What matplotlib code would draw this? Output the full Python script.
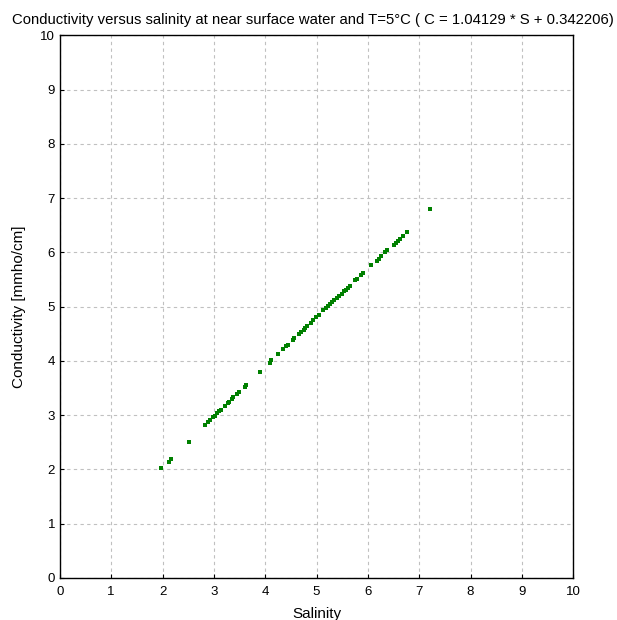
import matplotlib
matplotlib.use("Agg")
import matplotlib.pyplot as plt

plt.rcParams['font.family'] = ['Liberation Sans', 'DejaVu Sans']

# salinity / conductivity samples
salinity = [1.97, 2.13, 2.17, 2.51, 2.83, 2.89, 2.93, 2.99, 3.02, 3.07, 3.10, 3.13,
            3.21, 3.27, 3.30, 3.35, 3.38, 3.46, 3.49, 3.60, 3.63, 3.89, 4.09, 4.12,
            4.25, 4.35, 4.41, 4.45, 4.54, 4.57, 4.65, 4.70, 4.75, 4.78, 4.82, 4.89,
            4.94, 4.99, 5.04, 5.13, 5.18, 5.22, 5.26, 5.30, 5.35, 5.39, 5.44, 5.49,
            5.53, 5.58, 5.62, 5.65, 5.75, 5.78, 5.86, 5.90, 6.07, 6.17, 6.21, 6.25,
            6.33, 6.38, 6.50, 6.54, 6.58, 6.62, 6.68, 6.77, 7.22]
conductivity = [2.02, 2.14, 2.19, 2.50, 2.82, 2.88, 2.91, 2.97, 2.99, 3.04, 3.08, 3.10,
                3.16, 3.22, 3.25, 3.30, 3.33, 3.39, 3.43, 3.52, 3.56, 3.80, 3.96, 4.01,
                4.12, 4.21, 4.27, 4.30, 4.39, 4.43, 4.50, 4.54, 4.57, 4.61, 4.64, 4.70,
                4.75, 4.81, 4.85, 4.93, 4.98, 5.01, 5.04, 5.08, 5.13, 5.16, 5.20, 5.24,
                5.28, 5.30, 5.35, 5.38, 5.49, 5.51, 5.58, 5.62, 5.77, 5.84, 5.87, 5.93,
                6.01, 6.04, 6.13, 6.17, 6.21, 6.25, 6.30, 6.38, 6.80]
ticks = list(range(0, 11))

fig = plt.figure(figsize=(6.17, 6.2), dpi=100)
ax = fig.add_axes([0.097, 0.068, 0.832, 0.875])

ax.plot(salinity, conductivity, linestyle='none', marker='s', markersize=2.3,
        color='#008000', markeredgewidth=0)

ax.set_xlim(0, 10)
ax.set_ylim(0, 10)
ax.set_xticks(ticks)
ax.set_yticks(ticks)
ax.tick_params(direction='in', length=3, labelsize=9.5, width=0.8)
ax.tick_params(axis='x', pad=6)
ax.grid(True, linestyle=(0, (3, 3)), color='#c0c0c0', linewidth=0.8)
for s in ax.spines.values():
    s.set_linewidth(1.0)

fig.text(0.507, 0.962,
         'Conductivity versus salinity at near surface water and T=5°C ( C = 1.04129 * S + 0.342206)',
         fontsize=10.7, ha='center', va='baseline')
ax.set_xlabel('Salinity', fontsize=11, labelpad=6)
ax.set_ylabel('Conductivity [mmho/cm]', fontsize=11, labelpad=10)

fig.savefig('out.png', dpi=100)
